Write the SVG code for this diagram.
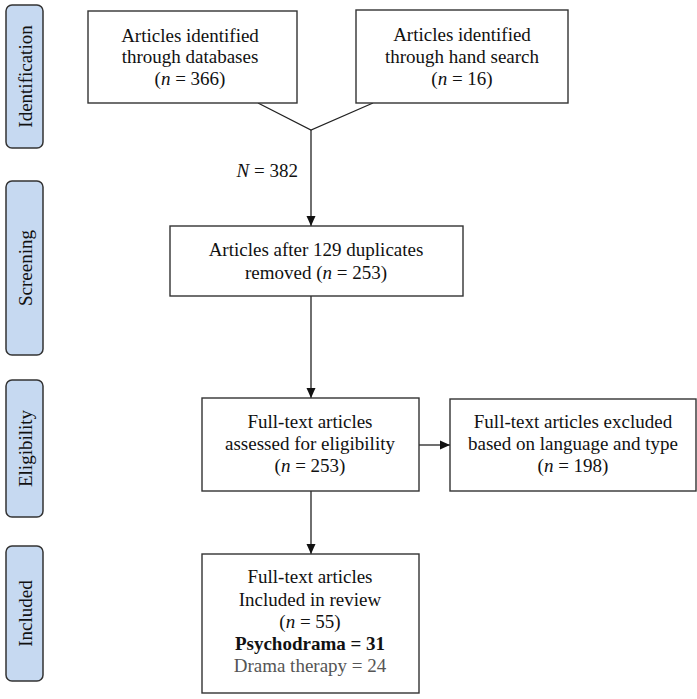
<svg xmlns="http://www.w3.org/2000/svg" width="697" height="699" viewBox="0 0 697 699">
<style>
text{font-family:"Liberation Serif","Times New Roman",serif;font-size:19px;fill:#111}
.box{fill:#fff;stroke:#333;stroke-width:1.4}
.lab{fill:#c6d9f1;stroke:#333;stroke-width:1.5}
.c{text-anchor:middle}
.ln{fill:none;stroke:#222;stroke-width:1.3}
</style>
<defs>
<marker id="ah" viewBox="0 0 10 10" refX="10" refY="5" markerWidth="10" markerHeight="10" markerUnits="userSpaceOnUse" orient="auto">
<path d="M0,0.5 L10,5 L0,9.5 Z" fill="#111"/>
</marker>
</defs>
<rect width="697" height="699" fill="#fff"/>
<g id="stage-identification">
<rect class="lab" x="6" y="5" width="37" height="143" rx="6"/>
<text class="c" transform="translate(32,76.5) rotate(-90)">Identification</text>
</g>
<g id="stage-screening">
<rect class="lab" x="6" y="181" width="37" height="174" rx="6"/>
<text class="c" transform="translate(32,268) rotate(-90)">Screening</text>
</g>
<g id="stage-eligibility">
<rect class="lab" x="6" y="380" width="37" height="137" rx="6"/>
<text class="c" transform="translate(32,448.5) rotate(-90)">Eligibility</text>
</g>
<g id="stage-included">
<rect class="lab" x="6" y="546" width="37" height="135" rx="6"/>
<text class="c" transform="translate(32,613.5) rotate(-90)">Included</text>
</g>
<g id="connectors">
<polyline class="ln" points="258,103 311,130 373,103"/>
<line class="ln" x1="311" y1="130" x2="311" y2="226" marker-end="url(#ah)"/>
<line class="ln" x1="311" y1="296" x2="311" y2="398" marker-end="url(#ah)"/>
<line class="ln" x1="419" y1="445" x2="450" y2="445" marker-end="url(#ah)"/>
<line class="ln" x1="311" y1="491" x2="311" y2="554" marker-end="url(#ah)"/>
<text x="298" y="177" text-anchor="end"><tspan font-style="italic">N</tspan> = 382</text>
</g>
<g id="node-databases">
<rect class="box" x="88" y="11" width="209" height="92"/>
<text class="c" x="190" y="42">Articles identified</text>
<text class="c" x="190" y="63">through databases</text>
<text class="c" x="190" y="85">(<tspan font-style="italic">n</tspan> = 366)</text>
</g>
<g id="node-handsearch">
<rect class="box" x="356" y="10" width="212" height="93"/>
<text class="c" x="462" y="41">Articles identified</text>
<text class="c" x="462" y="63">through hand search</text>
<text class="c" x="462" y="85">(<tspan font-style="italic">n</tspan> = 16)</text>
</g>
<g id="node-duplicates">
<rect class="box" x="170" y="226" width="293" height="70"/>
<text class="c" x="316" y="256">Articles after 129 duplicates</text>
<text class="c" x="316" y="279">removed (<tspan font-style="italic">n</tspan> = 253)</text>
</g>
<g id="node-fulltext">
<rect class="box" x="202" y="398" width="217" height="93"/>
<text class="c" x="310" y="428">Full-text articles</text>
<text class="c" x="310" y="450">assessed for eligibility</text>
<text class="c" x="310" y="472">(<tspan font-style="italic">n</tspan> = 253)</text>
</g>
<g id="node-excluded">
<rect class="box" x="450" y="399" width="246" height="92"/>
<text class="c" x="573" y="428">Full-text articles excluded</text>
<text class="c" x="573" y="450">based on language and type</text>
<text class="c" x="573" y="472">(<tspan font-style="italic">n</tspan> = 198)</text>
</g>
<g id="node-included">
<rect class="box" x="202" y="554" width="217" height="139"/>
<text class="c" x="310" y="583">Full-text articles</text>
<text class="c" x="310" y="606">Included in review</text>
<text class="c" x="310" y="628">(<tspan font-style="italic">n</tspan> = 55)</text>
<text class="c" x="310" y="650" font-weight="bold">Psychodrama = 31</text>
<text class="c" x="310" y="672" style="fill:#555">Drama therapy = 24</text>
</g>
</svg>
